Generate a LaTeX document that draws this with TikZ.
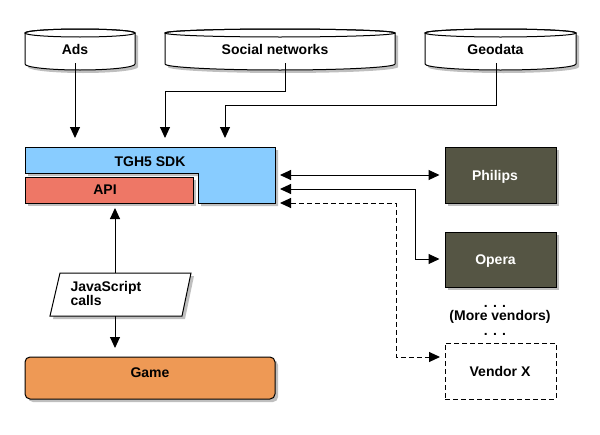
\documentclass[tikz,border=0pt]{standalone}
\usepackage{fontspec}
\setmainfont{Liberation Sans}
\usetikzlibrary{shadows,arrows.meta}
\definecolor{sdkblue}{HTML}{88CCFF}
\definecolor{apired}{HTML}{EE7766}
\definecolor{gameorange}{HTML}{EE9955}
\definecolor{vendordark}{HTML}{555544}
\tikzset{
  lbl/.style={font=\fontsize{14}{16}\selectfont\bfseries, inner sep=0pt, anchor=base},
  shad/.style={drop shadow={shadow xshift=3pt, shadow yshift=-3pt, fill=black, opacity=0.25}},
  arr/.style={-{Triangle[length=11pt,width=10pt]}},
  darr/.style={{Triangle[length=11pt,width=10pt]}-{Triangle[length=11pt,width=10pt]}},
  dashln/.style={dash pattern=on 5pt off 3pt},
  boxn/.style={draw, inner sep=0pt},
}
\newcommand\mycyl[4]{%
  \filldraw[shad, fill=white] (#1,33) -- (#1,64)
    arc[start angle=180, end angle=360, x radius=#3pt, y radius=6pt] -- (#2,33)
    arc[start angle=0, end angle=180, x radius=#3pt, y radius=4pt] -- cycle;
  \draw (#4,33) ellipse[x radius=#3pt, y radius=4pt];}
\begin{document}
\begin{tikzpicture}[x=1pt, y=-1pt, line width=1pt]
\useasboundingbox (0,0) rectangle (600,434);
\fill[white] (0,0) rectangle (600,434);

% data sources
\mycyl{25}{135}{55}{80}
\mycyl{165}{395}{115}{280}
\mycyl{425}{576}{75.5}{500.5}
\node (ads) [lbl] at (75,54) {Ads};
\node (social) [lbl] at (275,54) {Social networks};
\node (geo) [lbl] at (495.5,54) {Geodata};

% SDK
\filldraw[shad, fill=sdkblue] (25,147) -- (275,147) -- (275,203) -- (198,203) -- (198,173) -- (25,173) -- cycle;
\node (sdk) [lbl] at (150,166) {TGH5 SDK};
\node (api) [boxn, shad, fill=apired, minimum width=168pt, minimum height=26pt] at (109,190) {};
\node (apit) [lbl] at (105,194) {API};

% vendors
\node (philips) [boxn, shad, fill=vendordark, minimum width=111pt, minimum height=56pt] at (500.5,175) {};
\node (philipst) [lbl, text=white] at (495,180) {Philips};
\node (opera) [boxn, shad, fill=vendordark, minimum width=111pt, minimum height=55pt] at (500.5,259.5) {};
\node (operat) [lbl, text=white] at (495.5,264) {Opera};
\node (dots1) [lbl] at (495,307) {. . .};
\node (more) [lbl] at (500,320) {(More vendors)};
\node (dots2) [lbl] at (495,335) {. . .};
\node (vx) [boxn, dashln, fill=white, minimum width=111pt, minimum height=56pt] at (500.5,371) {};
\node (vxt) [lbl] at (500,376) {Vendor X};

% JS and Game
\filldraw[shad, fill=white] (60,273) -- (191,273) -- (182,316) -- (50,316) -- cycle;
\node (js) [lbl, align=left, anchor=north west, font=\fontsize{14}{13.5}\selectfont\bfseries] at (70,281) {JavaScript\\calls};
\node (game) [boxn, shad, fill=gameorange, rounded corners=5pt, minimum width=250pt, minimum height=42pt] at (150,378) {};
\node (gamet) [lbl] at (150,377) {Game};

% coordinates
\coordinate (adsS) at (75,63);
\coordinate (socS) at (285,63);
\coordinate (geoS) at (496,63);
\coordinate (sdkIn1) at (75,138);
\coordinate (sdkIn2) at (165,138);
\coordinate (sdkIn3) at (225,138);
\coordinate (r1) at (280,175);
\coordinate (r2) at (280,189);
\coordinate (r3) at (280,203);
\coordinate (jsTop) at (115,273);
\coordinate (jsBot) at (115,316);

% connectors
\draw[arr] (adsS) -- (sdkIn1);
\draw[arr] (socS) -- (285,91) -- (165,91) -- (sdkIn2);
\draw[arr] (geoS) -- (496,105) -- (225,105) -- (sdkIn3);
\draw[darr] (r1) -- ([xshift=-5pt]philips.west);
\draw[darr] (r2) -- (415,189) -- (415,259) -- ([xshift=-5pt]opera.west |- 415,259);
\draw[darr, dashln] (r3) -- (396,203) -- (396,357) -- (440,357);
\draw[arr] (jsTop) -- (115,208);
\draw[arr] (jsBot) -- (115,348);
\end{tikzpicture}
\end{document}
